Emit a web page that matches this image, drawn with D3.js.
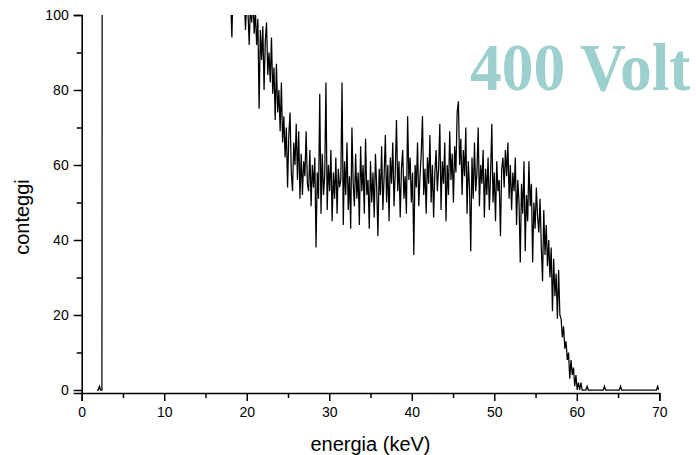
<!DOCTYPE html>
<html><head><meta charset="utf-8">
<script src="https://cdn.jsdelivr.net/npm/d3@7/dist/d3.min.js"></script>
<style>body{margin:0;background:#fff} svg{display:block}</style>
</head><body>
<svg id="c" width="696" height="455"></svg>
<script>
// channel calibration
const channelStart = 1.85;  // keV of first channel
const channelWidth = 0.15;  // keV per channel

// counts per channel (values above 100 are off-scale in the picture)
const counts = [
  0, 0, 1, 0, 0, 520,
  880, 1240, 1510, 1630, 1580, 1420, 1260, 1110, 990, 905,
  830, 772, 718, 676, 640, 603, 574, 548, 522, 501,
  480, 463, 447, 430, 418, 404, 391, 383, 370, 361,
  350, 342, 333, 327, 318, 311, 302, 297, 290, 284,
  277, 272, 266, 259, 256, 249, 245, 240, 236, 230,
  227, 221, 219, 213, 210, 206, 201, 199, 195, 190,
  188, 184, 181, 178, 176, 171, 169, 166, 163, 161,
  158, 156, 152, 150, 149, 145, 144, 141, 139, 137,
  135, 133, 131, 129, 128, 126, 124, 123, 121, 120,
  118, 117, 115, 114, 113, 112, 110, 109, 108, 107,
  106, 105, 104,
  94, 108, 112, 105, 110, 104, 109, 103, 107, 102, 105, 96, 104, 101, 92,
  103, 98, 106, 95, 101, 92, 99, 75, 96, 88,
  97, 80, 93, 98, 84, 90, 82, 94, 79, 86,
  72, 87, 74, 80, 69, 82, 66, 73, 62, 70,
  54, 68, 74, 58, 53, 66, 60, 71, 56, 69,
  51, 63, 52, 61, 57, 69, 55, 53, 64, 49,
  60, 54, 62, 38, 58, 51, 79, 47, 63, 52,
  57, 82, 48, 60, 53, 64, 45, 58, 51, 62,
  47, 59, 54, 56, 82, 44, 61, 52, 66, 48,
  57, 43, 70, 55, 49, 63, 51, 58, 44, 65,
  53, 60, 47, 67, 52, 56, 43, 61, 50, 58,
  46, 63, 54, 41, 59, 52, 65, 48, 57, 68,
  50, 60, 45, 62, 55, 66, 49, 58, 72, 53,
  61, 46, 59, 64, 51, 57, 47, 73, 56, 62,
  50, 58, 36, 60, 54, 66, 49, 57, 63, 73,
  52, 59, 47, 62, 55, 68, 50, 60, 46, 58,
  64, 53, 59, 71, 48, 61, 55, 66, 45, 60,
  52, 69, 56, 63, 50, 65, 58, 74, 77, 60,
  67, 52, 64, 57, 70, 47, 61, 54, 37, 62,
  51, 66, 53, 58, 70, 49, 60, 55, 64, 46,
  59, 52, 62, 48, 57, 71, 50, 58, 45, 61,
  53, 56, 41, 59, 62, 54, 64, 57, 66, 51,
  60, 48, 58, 53, 62, 44, 56, 50, 34, 55,
  47, 61, 37, 52, 45, 61, 49, 55, 34, 50,
  43, 54, 46, 42, 51, 38, 29, 48, 36, 44,
  33, 40, 30, 38, 21, 35, 25, 31, 19, 32,
  20, 19, 14, 17, 11, 13, 8, 10, 3, 8,
  4, 6, 1, 4, 0, 2, 0, 2, 0,
  0, 0, 0, 1, 0, 0, 0, 0, 0, 0,
  0, 0, 0, 0, 0, 0, 0, 1, 0, 0,
  0, 0, 0, 0, 0, 0, 0, 0, 0, 0,
  1, 0, 0, 0, 0, 0, 0, 0, 0, 0,
  0, 0, 0, 0, 0, 0, 0, 0, 0, 0,
  0, 0, 0, 0, 0, 0, 0, 0, 0, 0,
  1, 0
];

const xTicks = [0, 10, 20, 30, 40, 50, 60, 70];
const xMinorTicks = [5, 15, 25, 35, 45, 55, 65];
const yTicks = [0, 20, 40, 60, 80, 100];
const yMinorTicks = [10, 30, 50, 70, 90];
const xTitle = "energia (keV)";
const yTitle = "conteggi";
const titleText = "400 Volt";

const svg = d3.select("#c");
const x = d3.scaleLinear().domain([0, 70]).range([81.7, 659.3]);
const y = d3.scaleLinear().domain([-0.8, 100]).range([393, 15]);
const font = "'Liberation Sans', Arial, sans-serif";

svg.append("defs").append("clipPath").attr("id", "clip")
  .append("rect")
  .attr("x", x(0)).attr("y", y(100))
  .attr("width", x(70) - x(0)).attr("height", y(-0.8) - y(100));

const line = d3.line()
  .x((d, i) => x(channelStart + i * channelWidth))
  .y(d => y(d));

svg.append("path")
  .datum(counts)
  .attr("clip-path", "url(#clip)")
  .attr("fill", "none")
  .attr("stroke", "#000")
  .attr("stroke-width", 1.25)
  .attr("d", line);

// X axis
const gx = svg.append("g").attr("transform", `translate(0,${y(-0.8)})`);
gx.call(d3.axisBottom(x).tickValues(xTicks).tickSize(8).tickPadding(6).tickFormat(d3.format("d")));
const gxm = svg.append("g").attr("transform", `translate(0,${y(-0.8)})`);
gxm.call(d3.axisBottom(x).tickValues(xMinorTicks).tickSize(5).tickFormat(""));
gxm.select(".domain").remove();

// Y axis
const gy = svg.append("g").attr("transform", `translate(${x(0)},0)`);
gy.call(d3.axisLeft(y).tickValues(yTicks).tickSize(8).tickPadding(5).tickFormat(d3.format("d")));
const gym = svg.append("g").attr("transform", `translate(${x(0)},0)`);
gym.call(d3.axisLeft(y).tickValues(yMinorTicks).tickSize(5).tickFormat(""));
gym.select(".domain").remove();

svg.selectAll(".domain").attr("stroke", "#000").attr("stroke-width", 1.6);
svg.selectAll(".tick line").attr("stroke", "#000").attr("stroke-width", 1.5);
svg.selectAll(".tick text").attr("font-family", font).attr("font-size", 14).attr("fill", "#000");

// axis titles
svg.append("text")
  .attr("x", 370.5).attr("y", 451)
  .attr("text-anchor", "middle")
  .attr("font-family", font).attr("font-size", 20)
  .text(xTitle);

svg.append("text")
  .attr("transform", "translate(29,217) rotate(-90)")
  .attr("text-anchor", "middle")
  .attr("font-family", font).attr("font-size", 20)
  .text(yTitle);

// annotation
svg.append("text")
  .attr("transform", "translate(470,89.5) scale(1,1.07)")
  .attr("font-family", "'Liberation Serif', 'Times New Roman', serif")
  .attr("font-weight", "bold")
  .attr("font-size", 63.5)
  .attr("fill", "#9dcfcf")
  .text(titleText);
</script>
</body></html>
